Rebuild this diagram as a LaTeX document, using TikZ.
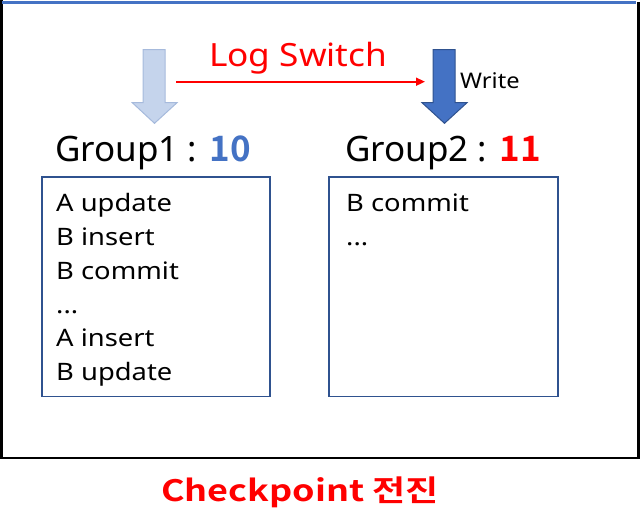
\documentclass[tikz,border=0pt]{standalone}
\usepackage{fontspec}
\setmainfont{Noto Sans}
\newfontfamily\widefont{Noto Sans}[FakeStretch=1.14]
\newfontfamily\logfont{Noto Sans}[FakeStretch=1.1]
\newfontfamily\boldfont{Noto Sans CJK KR Bold}
\newfontfamily\capfont{Noto Sans CJK KR Bold}[FakeStretch=1.22]
\usetikzlibrary{arrows.meta}
\definecolor{accblue}{RGB}{68,114,196}
\definecolor{darkblue}{RGB}{47,82,143}
\definecolor{lightfill}{RGB}{197,212,236}
\definecolor{lightedge}{RGB}{166,186,220}
\definecolor{pptred}{RGB}{255,0,0}
\tikzset{
  logbox/.style={draw=darkblue, line width=1.8pt, inner sep=0pt},
  logline/.style={anchor=base west, inner sep=0pt, font=\widefont\fontsize{24}{28}\selectfont},
  grouplabel/.style={anchor=base west, inner sep=0pt, font=\fontsize{35}{40}\selectfont},
}
\begin{document}
\begin{tikzpicture}[x=1pt,y=-1pt]
\useasboundingbox (0,0) rectangle (641,514);
% outer frame
\draw[line width=2.5pt] (1.5,0) -- (1.5,458) -- (638.5,458) -- (638.5,2);
\draw[accblue, line width=2.5pt] (2,2.5) -- (636,2.5);
% block arrows
\filldraw[fill=lightfill, draw=lightedge, line width=1pt]
  (143,49.5) -- (165,49.5) -- (165,102.7) -- (177,102.7) -- (154.5,123.3) -- (132.3,102.7) -- (143,102.7) -- cycle;
\filldraw[fill=accblue, draw=darkblue, line width=1pt]
  (433,49.5) -- (455,49.5) -- (455,102.7) -- (467,102.7) -- (444.5,123.3) -- (422,102.7) -- (433,102.7) -- cycle;
% log switch connector
\coordinate (ls) at (176,81.7);
\coordinate (le) at (425,81.7);
\draw[pptred, line width=1.6pt, -{Triangle[length=9pt,width=8pt]}] (ls) -- (le);
\node[anchor=base west, inner sep=0pt, text=pptred, font=\logfont\fontsize{32}{36}\selectfont] (logsw) at (209,66) {Log Switch};
\node[anchor=base west, inner sep=0pt, font=\logfont\fontsize{21.5}{26}\selectfont] (write) at (460,88.3) {Write};
% group labels
\node[grouplabel] (g1) at (55,161.7) {Group1 : \textcolor{accblue}{\boldfont 10}};
\node[grouplabel] (g2) at (345,161.7) {Group2 : \textcolor{pptred}{\boldfont 11}};
% boxes
\draw[logbox] (41.7,177.3) rectangle (270,396.5);
\draw[logbox] (329.3,177.3) rectangle (558.3,396.5);
\node[logline] (a1) at (56,211.7) {A update};
\node[logline] (a2) at (56,245.5) {B insert};
\node[logline] (a3) at (56,279.3) {B commit};
\node[logline] (a4) at (56,313) {...};
\node[logline] (a5) at (56,346.7) {A insert};
\node[logline] (a6) at (56,380.5) {B update};
\node[logline] (b1) at (346,211.7) {B commit};
\node[logline] (b2) at (346,245.5) {...};
% caption
\node[anchor=base, inner sep=0pt, text=pptred, font=\capfont\fontsize{29.5}{33}\selectfont] (cap) at (300,501.5) {Checkpoint 전진};
\end{tikzpicture}
\end{document}
